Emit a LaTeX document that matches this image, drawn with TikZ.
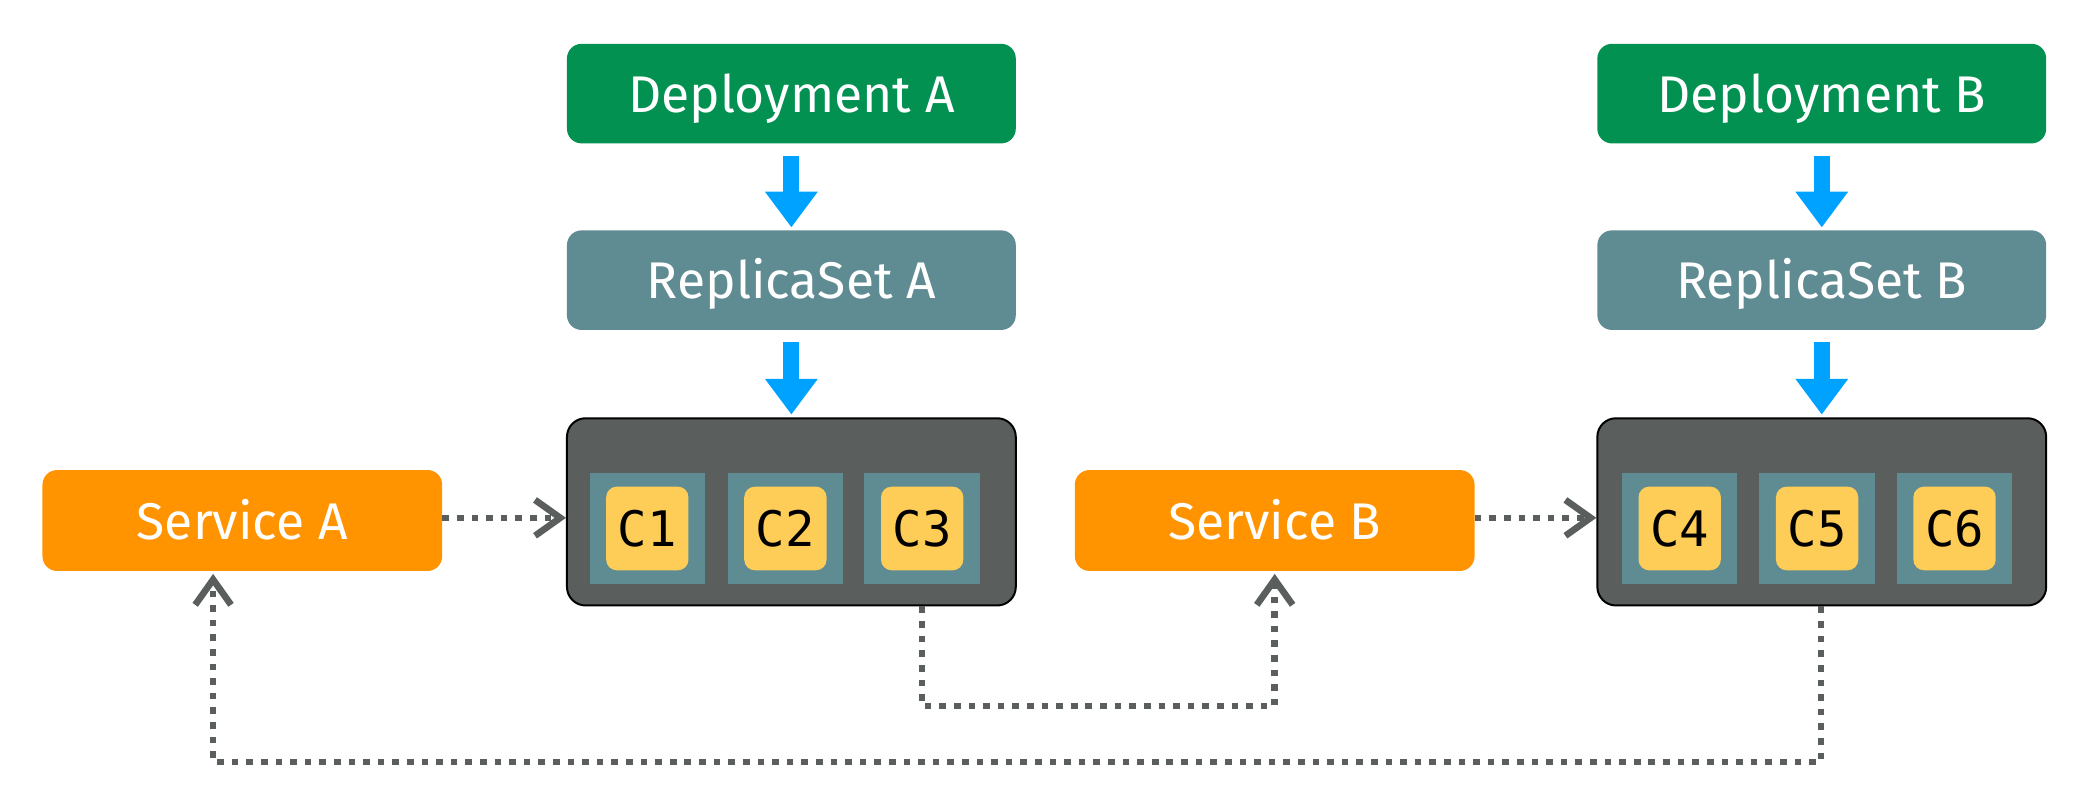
\documentclass[tikz,border=0pt]{standalone}
\usepackage{fontspec}
\setmainfont{Fira Sans}
\newfontfamily\monofont{DejaVu Sans Mono}
\usetikzlibrary{arrows.meta}
\definecolor{depgreen}{RGB}{3,145,82}
\definecolor{rsteal}{RGB}{95,139,146}
\definecolor{podgray}{RGB}{90,95,93}
\definecolor{svcorange}{RGB}{255,148,0}
\definecolor{cyellow}{RGB}{253,205,87}
\definecolor{flowblue}{RGB}{0,162,255}
\definecolor{linkgray}{RGB}{90,95,93}
\begin{document}
\begin{tikzpicture}[x=1bp,y=-1bp,
  box/.style={rounded corners=11bp, minimum width=338bp, minimum height=75bp, inner sep=0pt,
    text=white, font=\fontsize{39}{44}\selectfont, text height=28bp, text depth=0bp},
  dep/.style={box, fill=depgreen},
  rs/.style={box, fill=rsteal},
  svc/.style={box, fill=svcorange, minimum width=301bp, minimum height=76bp},
  pod/.style={draw=black, line width=1.5bp, fill=podgray, rounded corners=14bp,
    minimum width=338bp, minimum height=141bp, inner sep=0pt},
  slot/.style={fill=rsteal, minimum width=87bp, minimum height=84bp, inner sep=0pt},
  cont/.style={fill=cyellow, rounded corners=8bp, minimum width=62bp, minimum height=63bp,
    inner sep=0pt, font=\monofont\fontsize{37}{40}\selectfont},
  flow/.style={draw=flowblue, line width=12bp, -{Triangle[length=27bp,width=38bp]},
    shorten <=9bp, shorten >=2bp},
  link/.style={draw=linkgray, line width=5bp, dash pattern=on 5bp off 6bp,
    -{Straight Barb[length=19bp,width=27bp]}}
]
\useasboundingbox (0,0) rectangle (1568,598);

% column A
\node[dep] (depA) at (596,70.5) {Deployment A};
\node[rs]  (rsA)  at (596,211)  {ReplicaSet A};
\node[pod] (podA) at (596,385.5) {};
\node[slot] (s1) at (487.5,398) {};
\node[slot] (s2) at (591.5,398) {};
\node[slot] (s3) at (694.5,398) {};
\node[cont] (c1) at (s1) {C1};
\node[cont] (c2) at (s2) {C2};
\node[cont] (c3) at (s3) {C3};

% column B
\node[dep] (depB) at (1372,70.5) {Deployment B};
\node[rs]  (rsB)  at (1372,211)  {ReplicaSet B};
\node[pod] (podB) at (1372,385.5) {};
\node[slot] (s4) at (1265,398) {};
\node[slot] (s5) at (1368.5,398) {};
\node[slot] (s6) at (1472,398) {};
\node[cont] (c4) at (s4) {C4};
\node[cont] (c5) at (s5) {C5};
\node[cont] (c6) at (s6) {C6};

% services
\node[svc] (svcA) at (182.5,392) {Service A};
\node[svc] (svcB) at (960,392) {Service B};

% blue flow arrows
\draw[flow] (depA) -- (rsA);
\draw[flow] (rsA) -- (podA);
\draw[flow] (depB) -- (rsB);
\draw[flow] (rsB) -- (podB);

% dotted links
\draw[link] ([yshift=2bp]svcA.east) -- ([yshift=2bp]svcA.east -| podA.west);
\draw[link] ([yshift=2bp]svcB.east) -- ([yshift=2bp]svcB.east -| podB.west);
\coordinate (p3) at (s3.south |- podA.south);
\coordinate (q3) at ([yshift=-75bp]p3);
\draw[link, shorten >=2bp] (p3) -- (q3) -| (svcB.south);
\coordinate (p5) at ([xshift=3bp]s5.south |- podB.south);
\coordinate (q5) at ([yshift=-117bp]p5);
\coordinate (a5) at ([xshift=-22bp]svcA.south);
\draw[link, shorten >=2bp] (p5) -- (q5) -| (a5);
\end{tikzpicture}
\end{document}
